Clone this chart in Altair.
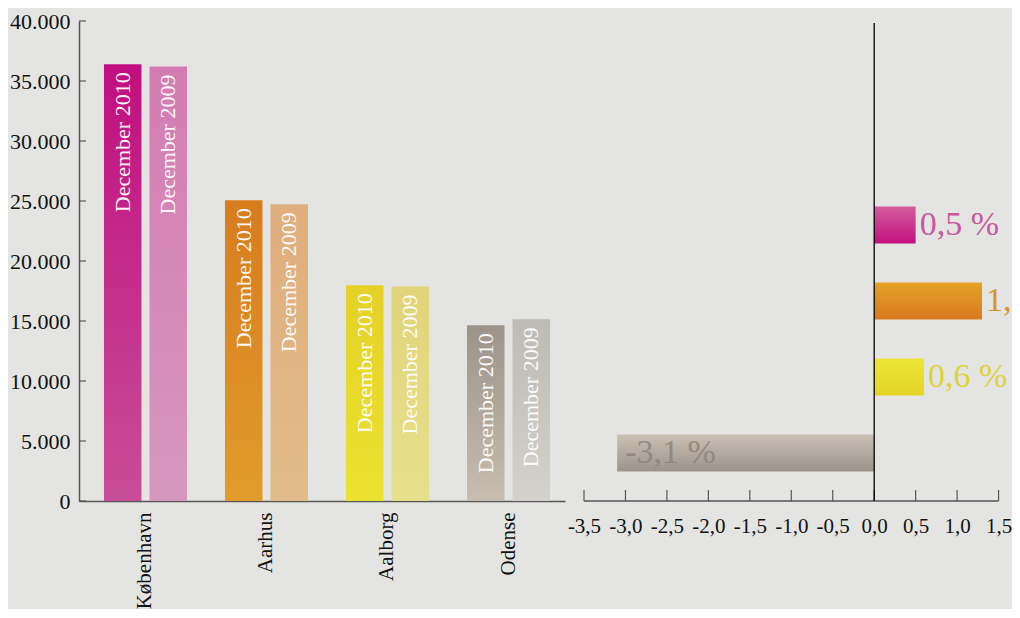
import altair as alt
import pandas as pd

# ---------------- data ----------------
cities = ["København", "Aarhus", "Aalborg", "Odense"]
periods = ["December 2010", "December 2009"]
values_2010 = [36390, 25060, 17980, 14640]
values_2009 = [36200, 24720, 17870, 15140]
pct_change = [0.5, 1.3, 0.6, -3.1]
y_ticks = [0, 5000, 10000, 15000, 20000, 25000, 30000, 35000, 40000]
x_ticks = [-3.5, -3.0, -2.5, -2.0, -1.5, -1.0, -0.5, 0.0, 0.5, 1.0, 1.5]

# ---------------- styles ----------------
FONT = "Liberation Serif"
AXIS_COLOR = "#555555"
bar_grad = {
    ("København", "December 2010"): ("#c10e80", "#c84d97"),
    ("København", "December 2009"): ("#d47cb2", "#d597bd"),
    ("Aarhus", "December 2010"): ("#d87c1e", "#e09c2a"),
    ("Aarhus", "December 2009"): ("#dfae7c", "#e1bc88"),
    ("Aalborg", "December 2010"): ("#e5d128", "#ebe22f"),
    ("Aalborg", "December 2009"): ("#e1d47a", "#e6e08c"),
    ("Odense", "December 2010"): ("#9c938a", "#c7bdb1"),
    ("Odense", "December 2009"): ("#bebab4", "#d4d0cb"),
}
pct_grad = {
    "København": ("#d45c9e", "#c2107f"),
    "Aarhus": ("#e4a227", "#d9791e"),
    "Aalborg": ("#ede636", "#e3d424"),
    "Odense": ("#cac0b4", "#9c938a"),
}
pct_text_colors = ["#c9579b", "#d9912b", "#ded23a", "#8b8178"]

LW, LH = 486, 480
RW, RH = 427, 480


def grad(top, bottom):
    return alt.Gradient(
        gradient="linear",
        stops=[alt.GradientStop(color=top, offset=0), alt.GradientStop(color=bottom, offset=1)],
        x1=0, x2=0, y1=0, y2=1,
    )


def fmt_pct(v):
    return f"{v:.1f}".replace(".", ",") + " %"


# ---------------- left panel ----------------
rows = []
for c, a, b in zip(cities, values_2010, values_2009):
    rows.append({"city": c, "period": periods[0], "value": a})
    rows.append({"city": c, "period": periods[1], "value": b})
df_left = pd.DataFrame(rows)

x_left = alt.X(
    "city:N", sort=cities, title=None,
    scale=alt.Scale(domain=cities, paddingInner=0.314, paddingOuter=0.165, align=0.625),
    axis=alt.Axis(labelAngle=270, labelFontSize=21, labelFont=FONT, labelColor="#111111",
                  labelPadding=11, ticks=False, tickSize=0, domainColor=AXIS_COLOR,
                  domainWidth=1.5, grid=False, labelLimit=300),
)
xoff_left = alt.XOffset("period:N", sort=periods,
                        scale=alt.Scale(domain=periods, paddingInner=0.176, paddingOuter=0))
y_scale_l = alt.Scale(domain=[0, 40000], nice=False)
y_axis_l = alt.Axis(values=y_ticks, labelExpr="replace(format(datum.value, ',.0f'), ',', '.')",
                    labelFontSize=22, labelFont=FONT, labelColor="#111111", labelPadding=9,
                    labelOverlap=False, ticks=False, tickSize=0, domainColor=AXIS_COLOR,
                    domainWidth=1.5, grid=False)
y_left = alt.Y("value:Q", title=None, scale=y_scale_l, axis=y_axis_l)

left_layers = []
for (c, p), (top, bottom) in bar_grad.items():
    left_layers.append(
        alt.Chart(df_left)
        .transform_filter((alt.datum.city == c) & (alt.datum.period == p))
        .mark_bar(color=grad(top, bottom))
        .encode(x=x_left, xOffset=xoff_left, y=y_left)
    )

left_text = (
    alt.Chart(df_left)
    .mark_text(angle=270, align="right", baseline="middle", yOffset=8, font=FONT,
               fontSize=22, color="white", opacity=0.95)
    .encode(x=x_left, xOffset=xoff_left, y=y_left, text="period:N")
)

ytick_df = pd.DataFrame({"v": y_ticks})
left_ticks = (
    alt.Chart(ytick_df)
    .mark_rule(color=AXIS_COLOR, strokeWidth=1.2)
    .encode(y=alt.Y("v:Q", title=None, scale=y_scale_l, axis=y_axis_l),
            x=alt.value(0), x2=alt.value(7))
)

left = alt.layer(*left_layers, left_text, left_ticks).properties(width=LW, height=LH)

# ---------------- right panel ----------------
df_right = pd.DataFrame({"city": cities, "pct": pct_change,
                         "label": [fmt_pct(v) for v in pct_change]})

x_scale_r = alt.Scale(domain=[-3.5, 1.65], nice=False, zero=False)
x_axis_r = alt.Axis(values=x_ticks,
                    labelExpr="replace(replace(format(datum.value, '.1f'), '.', ','), '\u2212', '-')",
                    labelFontSize=21, labelFont=FONT, labelColor="#111111", labelPadding=14,
                    labelOverlap=False, labelFlush=False, ticks=False, tickSize=0,
                    domain=False, grid=False)
y_r = alt.Y("city:N", sort=cities, title=None, axis=None,
            scale=alt.Scale(domain=cities, range=[166, 470], paddingInner=0.513,
                            paddingOuter=0.2565))

right_layers = []
for c, (top, bottom) in pct_grad.items():
    right_layers.append(
        alt.Chart(df_right)
        .transform_filter(alt.datum.city == c)
        .mark_bar(color=grad(top, bottom))
        .encode(x=alt.X("pct:Q", scale=x_scale_r, axis=x_axis_r, title=None), y=y_r)
    )

color_r = alt.Color("city:N", scale=alt.Scale(domain=cities, range=pct_text_colors), legend=None)
pos_text = (
    alt.Chart(df_right)
    .transform_filter(alt.datum.pct > 0)
    .mark_text(align="left", baseline="middle", dx=4, font=FONT, fontSize=34, clip=True)
    .encode(x=alt.X("pct:Q", scale=x_scale_r, axis=x_axis_r, title=None), y=y_r,
            text="label:N", color=color_r)
)
neg_text = (
    alt.Chart(df_right)
    .transform_filter(alt.datum.pct < 0)
    .mark_text(align="left", baseline="middle", dx=8, font=FONT, fontSize=34, opacity=0.8)
    .encode(x=alt.X("pct:Q", scale=x_scale_r, axis=x_axis_r, title=None), y=y_r,
            text="label:N", color=color_r)
)

xtick_df = pd.DataFrame({"t": x_ticks})
right_ticks = (
    alt.Chart(xtick_df)
    .mark_rule(color=AXIS_COLOR, strokeWidth=1.2)
    .encode(x=alt.X("t:Q", scale=x_scale_r, axis=x_axis_r, title=None),
            y=alt.value(RH - 11), y2=alt.value(RH))
)
base_df = pd.DataFrame({"start": [x_ticks[0]], "end": [x_ticks[-1]]})
right_base = (
    alt.Chart(base_df)
    .mark_rule(color=AXIS_COLOR, strokeWidth=1.5)
    .encode(x=alt.X("start:Q", scale=x_scale_r, axis=x_axis_r, title=None), x2="end:Q",
            y=alt.value(RH))
)
zero_df = pd.DataFrame({"z": [0.0]})
zero_line = (
    alt.Chart(zero_df)
    .mark_rule(color="black", strokeWidth=1.3)
    .encode(x=alt.X("z:Q", scale=x_scale_r, axis=x_axis_r, title=None),
            y=alt.value(2), y2=alt.value(RH))
)

right = alt.layer(*right_layers, pos_text, neg_text, right_ticks, right_base, zero_line).properties(
    width=RW, height=RH
)

chart = (
    alt.hconcat(left, right, spacing=2)
    .properties(background="#e4e5e3", padding={"left": 1, "top": 2, "right": 0, "bottom": 0})
    .configure_view(stroke=None)
    .configure_text(font=FONT)
)

chart.save("out.html", embed_options={"renderer": "svg", "actions": False})
